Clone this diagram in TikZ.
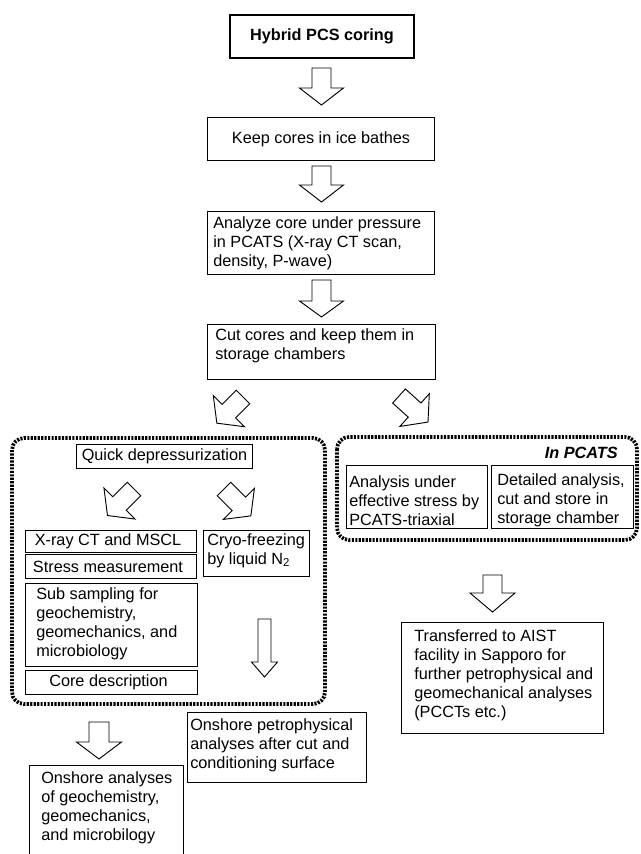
\documentclass[tikz,border=0pt]{standalone}
\usepackage{fontspec}
\setmainfont{Liberation Sans}
\usetikzlibrary{calc}
\newcommand\fs{\fontsize{12.2pt}{14.25pt}\selectfont}
\newcommand\blockarrow[7]{% tail x, tail y, angle, length, head length, shaft width, head width
  \draw[barrow, shift={(#1,#2)}, rotate=#3]
    (0,-#6/2) -- (#4-#5,-#6/2) -- (#4-#5,-#7/2) -- (#4,0) -- (#4-#5,#7/2) -- (#4-#5,#6/2) -- (0,#6/2) -- cycle;}
\tikzset{
  bx/.style={draw, line width=0.75pt, anchor=north west, inner sep=0pt},
  tx/.style={inner sep=0pt, align=left, font=\fs},
  barrow/.style={draw, line width=0.7pt, fill=white},
  dotbox/.style={line width=2.8pt, dash pattern=on 1.6pt off 1pt, rounded corners=9pt},
}
\begin{document}
\begin{tikzpicture}[x=0.75pt, y=-0.75pt]
\useasboundingbox (0,0) rectangle (641,854);
\clip (0,0) rectangle (641,854);

% group frames
\draw[dotbox] (12,438) rectangle (325,704);
\draw[dotbox] (337,437) rectangle (637,540);

% boxes
\node[bx, line width=1.5pt, minimum width=138pt, minimum height=32.25pt] (b1) at (229,14) {};
\node[bx, minimum width=170.25pt, minimum height=32.25pt] (b2) at (207,117) {};
\node[bx, minimum width=170.25pt, minimum height=47.25pt] (b3) at (207,211) {};
\node[bx, minimum width=171pt, minimum height=41.25pt] (b4) at (207,324) {};
\node[bx, minimum width=132pt, minimum height=18pt] (quick) at (76,444) {};
\node[bx, minimum width=128.25pt, minimum height=16.5pt] (xray) at (25,530) {};
\node[bx, minimum width=128.25pt, minimum height=18pt] (stress) at (25,554) {};
\node[bx, minimum width=79.5pt, minimum height=34.5pt] (cryo) at (203,530) {};
\node[bx, minimum width=129pt, minimum height=62.25pt] (sub) at (25,583) {};
\node[bx, minimum width=129pt, minimum height=18pt] (core) at (25,670) {};
\node[bx, minimum width=115.5pt, minimum height=75pt] (onA) at (29,765) {};
\node[bx, minimum width=134.25pt, minimum height=52.5pt] (onP) at (187,712) {};
\node[bx, minimum width=151.5pt, minimum height=83.25pt] (aist) at (401,622) {};
\node[bx, minimum width=105.75pt, minimum height=47.25pt] (pl) at (346,465) {};
\node[bx, minimum width=106.5pt, minimum height=47.25pt] (pr) at (491,465) {};

% texts
\node[tx, font=\fs\bfseries] (b1t) at (b1.center) {Hybrid PCS coring};
\node[tx] (b2t) at (b2.center) {Keep cores in ice bathes};
\node[tx, anchor=west] (b3t) at ($(b3.west)+(6,0)$) {Analyze core under pressure\\in PCATS (X-ray CT scan,\\density, P-wave)};
\node[tx, anchor=west] (b4t) at ($(b4.west)+(8,-6)$) {Cut cores and keep them in\\storage chambers};
\node[tx] (quickt) at (quick.center) {Quick depressurization};
\node[tx] (xrayt) at ($(xray.center)+(-3,0)$) {X-ray CT and MSCL};
\node[tx] (stresst) at ($(stress.center)+(-3,0)$) {Stress measurement};
\node[tx, anchor=west] (cryot) at ($(cryo.west)+(4,-3)$) {Cryo-freezing\\by liquid N\textsubscript{2}};
\node[tx, anchor=west] (subt) at ($(sub.west)+(11,-1)$) {Sub sampling for\\geochemistry,\\geomechanics, and\\microbiology};
\node[tx] (coret) at ($(core.center)+(-3,0)$) {Core description};
\node[tx, anchor=west] (onAt) at (41,807.5) {Onshore analyses\\of geochemistry,\\geomechanics,\\and microbilogy};
\node[tx, anchor=west] (onPt) at ($(onP.west)+(3,-2)$) {Onshore petrophysical\\analyses after cut and\\conditioning surface};
\node[tx, anchor=west] (aistt) at ($(aist.west)+(13,-2.5)$) {Transferred to AIST\\facility in Sapporo for\\further petrophysical and\\geomechanical analyses\\(PCCTs etc.)};
\node[tx, anchor=west] (plt) at ($(pl.west)+(3,3.5)$) {Analysis under\\effective stress by\\PCATS-triaxial};
\node[tx, anchor=west] (prt) at ($(pr.west)+(6,3.5)$) {Detailed analysis,\\cut and store in\\storage chamber};
\node[tx, anchor=east, font=\fs\bfseries\itshape] (inpcats) at (618,453) {In PCATS};

% block arrows
\blockarrow{321.5}{68}{-90}{37}{17}{19}{44}
\blockarrow{321.5}{166}{-90}{36}{17}{19}{44}
\blockarrow{321.5}{280}{-90}{37}{16}{19}{44}
\blockarrow{243}{397}{225}{37}{17}{19}{44}
\blockarrow{399}{396}{-42}{39}{18}{19}{44}
\blockarrow{134}{489}{225}{37.5}{17}{19}{44}
\blockarrow{224}{489}{-45}{38}{17}{19}{44}
\blockarrow{264.5}{619}{-90}{58}{15}{13}{26}
\blockarrow{99}{722}{-90}{37}{17}{20}{45}
\blockarrow{492.5}{575}{-90}{37}{19}{19}{45}
\end{tikzpicture}
\end{document}
